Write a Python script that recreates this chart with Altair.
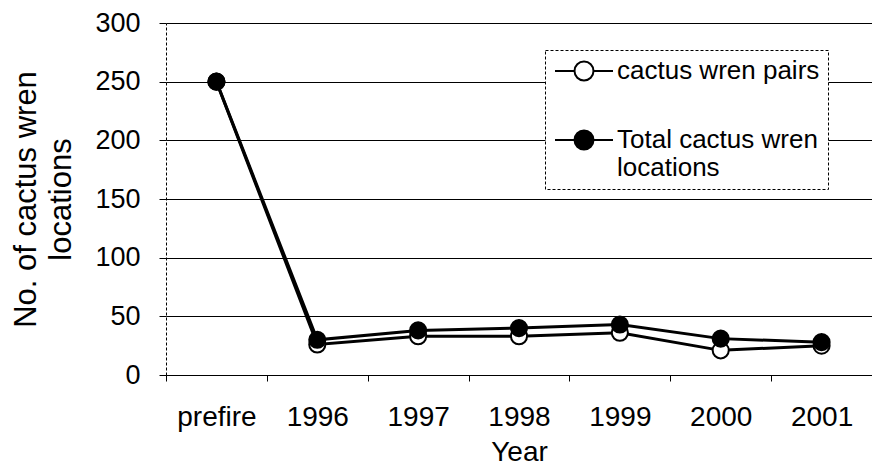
import altair as alt
import pandas as pd

years = ["prefire", "1996", "1997", "1998", "1999", "2000", "2001"]
pairs = [250, 26, 33, 33, 36, 21, 25]
total = [250, 30, 38, 40, 43, 31, 28]
series_names = ["cactus wren pairs", "Total cactus wren locations"]
y_ticks = [0, 50, 100, 150, 200, 250, 300]

rows = []
for name, vals in zip(series_names, [pairs, total]):
    for yr, v in zip(years, vals):
        rows.append({"Year": yr, "count": v, "series": name})
df = pd.DataFrame(rows)

FONT = "Liberation Sans"

x_enc = alt.X(
    "Year:N",
    sort=years,
    scale=alt.Scale(type="band", paddingInner=0, paddingOuter=0),
    bandPosition=0.5,
    axis=alt.Axis(
        title="Year",
        labelAngle=0,
        tickBand="extent",
        tickSize=6,
        tickColor="black",
        domainColor="black",
        labelFont=FONT,
        labelFontSize=28,
        labelColor="black",
        labelPadding=22,
        titleFont=FONT,
        titleFontSize=28,
        titleFontWeight="normal",
        titleColor="black",
        titlePadding=7,
        grid=False,
    ),
)

y_enc = alt.Y(
    "count:Q",
    scale=alt.Scale(domain=[0, 300], nice=False),
    axis=alt.Axis(
        values=y_ticks,
        title=["No. of cactus wren", "locations"],
        grid=True,
        gridColor="black",
        gridWidth=1,
        domainColor="black",
        domainDash=[3, 2],
        tickColor="black",
        tickSize=7,
        labelFont=FONT,
        labelFontSize=27,
        labelColor="black",
        labelPadding=19,
        titleFont=FONT,
        titleFontSize=31,
        titleFontWeight="normal",
        titleColor="black",
        titleLineHeight=35,
        titlePadding=17,
    ),
)

SYMBOL = "M-2.9,0L-0.95,0M0.95,0L2.9,0M-0.95,0A0.95,0.95 0 1,0 0.95,0A0.95,0.95 0 1,0 -0.95,0Z"

lines = alt.Chart(df).mark_line(color="black", strokeWidth=3).encode(
    x=x_enc, y=y_enc, detail="series:N"
)

points = alt.Chart(df).mark_point(
    shape="circle", filled=True, size=260, stroke="black", strokeWidth=2, opacity=1
).encode(
    x=x_enc,
    y=y_enc,
    fill=alt.Fill(
        "series:N",
        sort=series_names,
        scale=alt.Scale(domain=series_names, range=["white", "black"]),
        legend=alt.Legend(
            title=None,
            orient="none",
            legendX=379,
            legendY=27,
            symbolType=SYMBOL,
            symbolSize=400,
            symbolStrokeColor="black",
            symbolStrokeWidth=2,
            symbolOffset=18,
            labelOffset=20,
            labelFont=FONT,
            labelFontSize=26,
            labelColor="black",
            labelLimit=400,
            labelExpr="datum.label == 'Total cactus wren locations' ? ['Total cactus wren', 'locations'] : datum.label",
            padding=8,
            strokeColor="black",
            fillColor="white",
            rowPadding=41,
        ),
    ),
)

chart = (
    alt.layer(lines, points)
    .properties(
        width=706,
        height=352,
        autosize=alt.AutoSizeParams(type="none"),
        padding={"left": 158, "top": 15, "right": 0, "bottom": 91},
        background="white",
    )
    .configure_view(stroke=None)
    .configure_legend(strokeDash=[3, 2], strokeWidth=1)
)

chart.save("out.html", embed_options={"renderer": "svg", "actions": False})
